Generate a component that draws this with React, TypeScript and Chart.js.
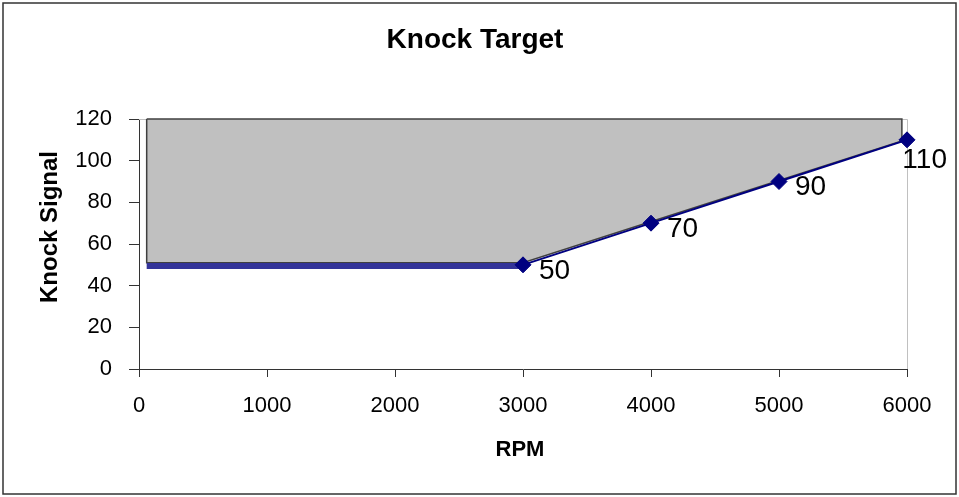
import React, { useEffect, useRef } from "react";
import { Chart, registerables } from "chart.js";

Chart.register(...registerables);

// ---- data ----
const chartTitle = "Knock Target";
const xAxisTitle = "RPM";
const yAxisTitle = "Knock Signal";

// target line (RPM vs knock signal)
const targetRpm = [3000, 4000, 5000, 6000];
const targetKnock = [50, 70, 90, 110];

// thick flat segment at the low end
const flatRpm = [60, 3000];
const flatKnock = [49.5, 49.5];

// grey shaded region (above the target line)
const shadeRpm = [60, 5960, 5960, 3000, 60, 60];
const shadeKnock = [120, 120, 109.4, 51, 51, 120];

const xTicks = { min: 0, max: 6000, step: 1000 };
const yTicks = { min: 0, max: 120, step: 20 };

const FONT = "'Liberation Sans', Arial, sans-serif";

const decorPlugin = {
  id: "decor",
  beforeDraw(chart: any) {
    const { ctx, width, height } = chart;
    ctx.save();
    ctx.fillStyle = "#ffffff";
    ctx.fillRect(0, 0, width, height);
    ctx.restore();
  },
  beforeDatasetsDraw(chart: any) {
    const { ctx, chartArea } = chart;
    ctx.save();
    ctx.strokeStyle = "#c0c0c0";
    ctx.lineWidth = 1;
    ctx.beginPath();
    ctx.moveTo(chartArea.left, chartArea.top + 0.5);
    ctx.lineTo(chartArea.right + 0.5, chartArea.top + 0.5);
    ctx.lineTo(chartArea.right + 0.5, chartArea.bottom);
    ctx.stroke();
    ctx.restore();
  },
  afterDatasetsDraw(chart: any) {
    const { ctx, width } = chart;
    const meta = chart.getDatasetMeta(0);
    ctx.save();
    ctx.font = `28px ${FONT}`;
    ctx.fillStyle = "#000";
    ctx.textBaseline = "middle";
    ctx.textAlign = "left";
    meta.data.forEach((pt: any, i: number) => {
      const label = String(targetKnock[i]);
      const w = ctx.measureText(label).width;
      let x = pt.x + 16;
      let y = pt.y + 6;
      const limit = width - 12;
      if (x + w > limit) {
        x = limit - w;
        y = pt.y + 20;
      }
      ctx.fillText(label, x, y);
    });
    ctx.restore();
  },
  afterDraw(chart: any) {
    const { ctx, width, height } = chart;
    ctx.save();
    ctx.fillStyle = "#000";
    // main title
    ctx.font = `bold 28px ${FONT}`;
    ctx.textAlign = "center";
    ctx.textBaseline = "alphabetic";
    ctx.fillText(chartTitle, 475, 48);
    // x title
    ctx.font = `bold 22px ${FONT}`;
    ctx.fillText(xAxisTitle, 520, 456);
    // y title
    ctx.translate(57, 227);
    ctx.rotate(-Math.PI / 2);
    ctx.font = `bold 24px ${FONT}`;
    ctx.fillText(yAxisTitle, 0, 0);
    ctx.restore();
    // outer frame
    ctx.save();
    ctx.strokeStyle = "#333";
    ctx.lineWidth = 1.5;
    ctx.strokeRect(3, 3, width - 6, height - 6);
    ctx.restore();
  },
};

export default function App() {
  const ref = useRef<HTMLCanvasElement | null>(null);

  useEffect(() => {
    document.body.style.margin = "0";
    const canvas = ref.current;
    if (!canvas) return;
    const chart = new Chart(canvas, {
      type: "scatter",
      data: {
        datasets: [
          {
            label: "Target",
            data: targetRpm.map((x, i) => ({ x, y: targetKnock[i] })),
            showLine: true,
            borderColor: "#000080",
            borderWidth: 2,
            backgroundColor: "#000080",
            pointStyle: "rectRot",
            pointRadius: 8,
            pointBorderWidth: 1,
            pointBorderColor: "#000080",
            pointBackgroundColor: "#000080",
            tension: 0,
            clip: false,
          } as any,
          {
            label: "Flat",
            data: flatRpm.map((x, i) => ({ x, y: flatKnock[i] })),
            showLine: true,
            borderColor: "#333399",
            borderWidth: 6,
            pointRadius: 0,
            borderCapStyle: "butt",
            tension: 0,
            clip: false,
          } as any,
          {
            label: "Shade",
            data: shadeRpm.map((x, i) => ({ x, y: shadeKnock[i] })),
            showLine: true,
            borderColor: "#404040",
            borderWidth: 1.5,
            backgroundColor: "#c0c0c0",
            fill: "shape",
            pointRadius: 0,
            tension: 0,
            clip: false,
          } as any,
        ],
      },
      options: {
        responsive: false,
        animation: false,
        events: [],
        layout: { padding: { top: 119, right: 52, bottom: 0, left: 0 } },
        plugins: {
          legend: { display: false },
          title: { display: false },
          tooltip: { enabled: false },
        },
        scales: {
          x: {
            type: "linear",
            position: "bottom",
            min: xTicks.min,
            max: xTicks.max,
            afterFit: (s: any) => {
              s.height = 128;
            },
            ticks: {
              stepSize: xTicks.step,
              color: "#000",
              padding: 16,
              maxRotation: 0,
              font: { family: FONT, size: 22 },
              callback: (v: any) => String(v),
            },
            grid: {
              display: true,
              drawOnChartArea: false,
              drawTicks: true,
              tickLength: 8,
              color: "#333",
            },
            border: { display: true, color: "#333", width: 1 },
          },
          y: {
            type: "linear",
            position: "left",
            min: yTicks.min,
            max: yTicks.max,
            afterFit: (s: any) => {
              s.width = 139;
            },
            ticks: {
              stepSize: yTicks.step,
              color: "#000",
              padding: 17,
              font: { family: FONT, size: 22 },
              callback: (v: any) => String(v),
            },
            grid: {
              display: true,
              drawOnChartArea: false,
              drawTicks: true,
              tickLength: 10,
              color: "#333",
            },
            border: { display: true, color: "#333", width: 1 },
          },
        },
      },
      plugins: [decorPlugin],
    });
    return () => chart.destroy();
  }, []);

  return (
    <div style={{ width: 959, height: 497 }}>
      <canvas ref={ref} width={959} height={497} style={{ display: "block" }} />
    </div>
  );
}
